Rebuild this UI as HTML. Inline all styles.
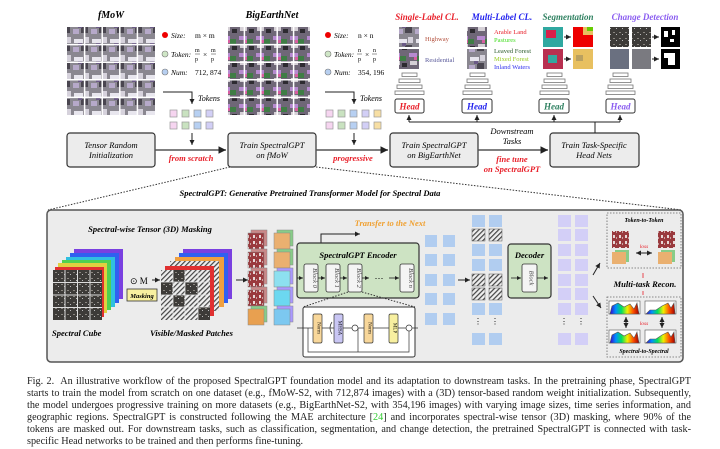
<!DOCTYPE html>
<html><head><meta charset="utf-8"><style>
body{margin:0;background:#fff;width:720px;height:446px;overflow:hidden;position:relative;font-family:"Liberation Serif",serif}
svg{position:absolute;left:0;top:0}
.cap{position:absolute;left:27px;top:376px;width:664px;font-size:10.2px;line-height:12.1px;text-align:justify;color:#222;font-family:"Liberation Serif",serif}
</style></head><body>
<svg width="720" height="446" viewBox="0 0 720 446" font-family="Liberation Serif, serif">
<defs>
<pattern id="fm" width="18" height="18" patternUnits="userSpaceOnUse">
<rect width="18" height="18" fill="#8a8790"/><rect x="2" y="3" width="9" height="4" fill="#e8e6ee"/><rect x="9" y="9" width="7" height="6" fill="#4a4650"/><rect x="1" y="11" width="6" height="5" fill="#b6a9c9"/><rect x="12" y="1" width="5" height="6" fill="#d6d2dc"/><rect x="6" y="7" width="4" height="3" fill="#6b5a86"/>
</pattern>
<pattern id="be" width="17" height="17" patternUnits="userSpaceOnUse">
<rect width="17" height="17" fill="#6f6777"/><rect x="1" y="2" width="8" height="4" fill="#b78ad0"/><rect x="9" y="5" width="6" height="5" fill="#3f7d45"/><rect x="2" y="10" width="7" height="4" fill="#d5d0d6"/><rect x="11" y="12" width="5" height="4" fill="#2d2a30"/><rect x="6" y="6" width="3" height="3" fill="#d85ea0"/>
</pattern>
<pattern id="hat" width="3.5" height="3.5" patternUnits="userSpaceOnUse" patternTransform="rotate(45)">
<rect width="3.5" height="3.5" fill="#eee"/><rect width="1.2" height="3.5" fill="#444"/>
</pattern>
<pattern id="red" width="6" height="6" patternUnits="userSpaceOnUse">
<rect width="6" height="6" fill="#9a3a3e"/><rect x="1" y="1" width="2" height="3" fill="#e8d8d8"/><rect x="4" y="3" width="1" height="2" fill="#c9a0a0"/>
</pattern>
<pattern id="dark" width="6" height="6" patternUnits="userSpaceOnUse">
<rect width="6" height="6" fill="#3d3b38"/><rect x="1" y="2" width="2" height="1" fill="#8a8680"/><rect x="4" y="4" width="1" height="1" fill="#bbb"/>
</pattern>
<linearGradient id="rb" x1="0" x2="1"><stop offset="0" stop-color="#3b00c8"/><stop offset=".2" stop-color="#0090ff"/><stop offset=".4" stop-color="#00e060"/><stop offset=".6" stop-color="#f0f000"/><stop offset=".8" stop-color="#ff5000"/><stop offset="1" stop-color="#a00000"/></linearGradient>
<marker id="ar" markerWidth="6" markerHeight="6" refX="5" refY="3" orient="auto"><path d="M0,0.5 L5,3 L0,5.5 z" fill="#222"/></marker>
</defs>

<text x="111" y="18" font-size="10" font-style="italic" font-weight="bold" text-anchor="middle">fMoW</text>
<rect x="67" y="27" width="88" height="88" fill="url(#fm)"/>
<g stroke="#fff" stroke-width="1.5"><line x1="84.6" y1="27" x2="84.6" y2="115"/><line x1="102.2" y1="27" x2="102.2" y2="115"/><line x1="119.8" y1="27" x2="119.8" y2="115"/><line x1="137.4" y1="27" x2="137.4" y2="115"/><line x1="67" y1="44.6" x2="155" y2="44.6"/><line x1="67" y1="62.2" x2="155" y2="62.2"/><line x1="67" y1="79.8" x2="155" y2="79.8"/><line x1="67" y1="97.4" x2="155" y2="97.4"/></g>
<g font-size="7.5" font-style="italic">
<circle cx="165" cy="35" r="3" fill="#e00"/><text x="171" y="38">Size:</text><text x="195" y="38" font-style="normal">m × m</text>
<circle cx="165" cy="54" r="3" fill="#cfe6c6" stroke="#777" stroke-width=".6"/><text x="171" y="57">Token:</text><text x="195" y="52" font-style="normal" font-size="6">m</text><line x1="195" y1="54" x2="200" y2="54" stroke="#333" stroke-width=".5"/><text x="195" y="61" font-style="normal" font-size="6">p</text><text x="203" y="57" font-style="normal">×</text><text x="211" y="52" font-style="normal" font-size="6">m</text><line x1="211" y1="54" x2="216" y2="54" stroke="#333" stroke-width=".5"/><text x="211" y="61" font-style="normal" font-size="6">p</text>
<circle cx="165" cy="72" r="3" fill="#b7cff0" stroke="#777" stroke-width=".6"/><text x="171" y="75">Num:</text><text x="195" y="75" font-style="normal">712, 874</text>
</g>
<polyline points="163,92 192,92 192,104" fill="none" stroke="#222" stroke-width="1" marker-end="url(#ar)"/>
<text x="198" y="101" font-size="8" font-style="italic">Tokens</text>
<g stroke="#999" stroke-width=".7">
<rect x="170" y="110" width="7" height="7" fill="#f6d5f0"/><rect x="182" y="110" width="7" height="7" fill="#c9e2c0"/><rect x="194" y="110" width="7" height="7" fill="#b7d0f2"/><rect x="206" y="110" width="7" height="7" fill="#d2cff6"/>
<rect x="170" y="122" width="7" height="7" fill="#f6d5f0"/><rect x="182" y="122" width="7" height="7" fill="#c9e2c0"/><rect x="194" y="122" width="7" height="7" fill="#b7d0f2"/><rect x="206" y="122" width="7" height="7" fill="#d2cff6"/>
</g>
<line x1="192" y1="133" x2="192" y2="145" stroke="#222" marker-end="url(#ar)"/>

<text x="272" y="18" font-size="10" font-style="italic" font-weight="bold" text-anchor="middle">BigEarthNet</text>
<rect x="228" y="27" width="82" height="88" fill="url(#be)"/>
<g stroke="#fff" stroke-width="1.5"><line x1="244.4" y1="27" x2="244.4" y2="115"/><line x1="260.8" y1="27" x2="260.8" y2="115"/><line x1="277.2" y1="27" x2="277.2" y2="115"/><line x1="293.6" y1="27" x2="293.6" y2="115"/><line x1="228" y1="44.6" x2="310" y2="44.6"/><line x1="228" y1="62.2" x2="310" y2="62.2"/><line x1="228" y1="79.8" x2="310" y2="79.8"/><line x1="228" y1="97.4" x2="310" y2="97.4"/></g>
<g font-size="7.5" font-style="italic">
<circle cx="328" cy="35" r="3" fill="#e00"/><text x="334" y="38">Size:</text><text x="358" y="38" font-style="normal">n × n</text>
<circle cx="328" cy="54" r="3" fill="#cfe6c6" stroke="#777" stroke-width=".6"/><text x="334" y="57">Token:</text><text x="358" y="52" font-style="normal" font-size="6">n</text><line x1="357" y1="54" x2="362" y2="54" stroke="#333" stroke-width=".5"/><text x="358" y="61" font-style="normal" font-size="6">p</text><text x="365" y="57" font-style="normal">×</text><text x="373" y="52" font-style="normal" font-size="6">n</text><line x1="372" y1="54" x2="377" y2="54" stroke="#333" stroke-width=".5"/><text x="373" y="61" font-style="normal" font-size="6">p</text>
<circle cx="328" cy="72" r="3" fill="#b7cff0" stroke="#777" stroke-width=".6"/><text x="334" y="75">Num:</text><text x="358" y="75" font-style="normal">354, 196</text>
</g>
<polyline points="325,92 354,92 354,104" fill="none" stroke="#222" stroke-width="1" marker-end="url(#ar)"/>
<text x="360" y="101" font-size="8" font-style="italic">Tokens</text>
<g stroke="#999" stroke-width=".7">
<rect x="326" y="110" width="7" height="7" fill="#f6d5f0"/><rect x="338" y="110" width="7" height="7" fill="#c9e2c0"/><rect x="350" y="110" width="7" height="7" fill="#b7d0f2"/><rect x="362" y="110" width="7" height="7" fill="#d2cff6"/><rect x="374" y="110" width="7" height="7" fill="#f7dfa4"/>
<rect x="326" y="122" width="7" height="7" fill="#f6d5f0"/><rect x="338" y="122" width="7" height="7" fill="#c9e2c0"/><rect x="350" y="122" width="7" height="7" fill="#b7d0f2"/><rect x="362" y="122" width="7" height="7" fill="#d2cff6"/><rect x="374" y="122" width="7" height="7" fill="#f7dfa4"/>
</g>
<line x1="354" y1="133" x2="354" y2="145" stroke="#222" marker-end="url(#ar)"/>

<g fill="#ececec" stroke="#333" stroke-width="1.2">
<rect x="67" y="133" width="88" height="34" rx="3"/><rect x="228" y="133" width="88" height="34" rx="3"/><rect x="390" y="133" width="88" height="34" rx="3"/><rect x="550" y="133" width="89" height="34" rx="3"/>
</g>
<g stroke="#555" stroke-width="1.5"><line x1="155" y1="150" x2="226" y2="150" marker-end="url(#ar)"/><line x1="316" y1="150" x2="388" y2="150" marker-end="url(#ar)"/><line x1="478" y1="150" x2="548" y2="150" marker-end="url(#ar)"/></g>
<g font-size="8.5" font-style="italic" text-anchor="middle">
<text x="111" y="148">Tensor Random</text><text x="111" y="158">Initialization</text>
<text x="272" y="148">Train SpectralGPT</text><text x="272" y="158">on fMoW</text>
<text x="434" y="148">Train SpectralGPT</text><text x="434" y="158">on BigEarthNet</text>
<text x="594" y="148">Train Task-Specific</text><text x="594" y="158">Head Nets</text>
<text x="512" y="134">Downstream</text><text x="512" y="144">Tasks</text>
<g fill="#e8202a" font-weight="bold"><text x="191" y="161">from scratch</text><text x="353" y="161">progressive</text><text x="512" y="162">fine tune</text><text x="512" y="172">on SpectralGPT</text></g>
</g>

<g stroke="#222" stroke-width="1"><polyline points="409,122 620,122" fill="none"/><line x1="595" y1="122" x2="595" y2="133"/>
<line x1="409" y1="122" x2="409" y2="115" marker-end="url(#ar)"/><line x1="477" y1="122" x2="477" y2="115" marker-end="url(#ar)"/><line x1="554" y1="122" x2="554" y2="115" marker-end="url(#ar)"/><line x1="620" y1="122" x2="620" y2="115" marker-end="url(#ar)"/></g>
<g fill="#fff" stroke="#333" stroke-width="1">
<rect x="395" y="99" width="29" height="14" rx="2"/><rect x="462" y="99" width="30" height="14" rx="2"/><rect x="539" y="99" width="30" height="14" rx="2"/><rect x="606" y="99" width="29" height="14" rx="2"/>
</g>
<g font-size="9" font-style="italic" font-weight="bold" text-anchor="middle">
<text x="409.5" y="109.5" fill="#e8202a">Head</text><text x="477" y="109.5" fill="#2222ee">Head</text><text x="554" y="109.5" fill="#2e8060">Head</text><text x="620.5" y="109.5" fill="#8a5cf0">Head</text>
</g>
<g fill="#fff" stroke="#777" stroke-width=".8">
<rect x="402" y="73" width="15" height="3.5"/><rect x="399" y="79" width="21" height="3.5"/><rect x="397" y="85" width="25" height="3.5"/><rect x="395" y="91" width="29" height="3.5"/>
<rect x="470" y="73" width="15" height="3.5"/><rect x="467" y="79" width="21" height="3.5"/><rect x="465" y="85" width="25" height="3.5"/><rect x="463" y="91" width="29" height="3.5"/>
<rect x="547" y="73" width="15" height="3.5"/><rect x="544" y="79" width="21" height="3.5"/><rect x="542" y="85" width="25" height="3.5"/><rect x="540" y="91" width="29" height="3.5"/>
<rect x="613" y="73" width="15" height="3.5"/><rect x="610" y="79" width="21" height="3.5"/><rect x="608" y="85" width="25" height="3.5"/><rect x="606" y="91" width="29" height="3.5"/>
</g>
<g font-size="9" font-style="italic" font-weight="bold" text-anchor="middle">
<text x="427" y="20" fill="#e8202a">Single-Label CL.</text><text x="502" y="20" fill="#2222ee">Multi-Label CL.</text><text x="568" y="20" fill="#2e8060">Segmentation</text><text x="645" y="20" fill="#8a5cf0">Change Detection</text>
</g>
<rect x="399" y="27" width="20" height="20" fill="url(#fm)"/><rect x="399" y="49" width="20" height="20" fill="url(#be)"/>
<rect x="467" y="27" width="20" height="20" fill="url(#be)"/><rect x="467" y="49" width="20" height="20" fill="url(#fm)"/>
<g font-size="6.5"><text x="425" y="41" fill="#b3503d">Highway</text><text x="425" y="62" fill="#5a5a9a">Residential</text>
<text x="494" y="34" fill="#e8202a">Arable Land</text><text x="494" y="42" fill="#44dd22">Pastures</text><text x="494" y="53" fill="#2a5a2a">Leaved Forest</text><text x="494" y="61" fill="#99cc22">Mixed Forest</text><text x="494" y="69" fill="#3333ee">Inland Waters</text></g>
<rect x="543" y="27" width="20" height="20" fill="#2fa8a0"/><rect x="546" y="30" width="10" height="8" fill="#d8204a"/><rect x="543" y="49" width="20" height="20" fill="#b83050"/><rect x="548" y="55" width="9" height="8" fill="#33a8a0"/>
<rect x="573" y="27" width="20" height="20" fill="#e00"/><rect x="583" y="27" width="10" height="8" fill="#e8c060"/><rect x="587" y="27" width="6" height="4" fill="#6c0"/>
<rect x="573" y="49" width="20" height="20" fill="#e8c060"/><rect x="576" y="55" width="7" height="6" fill="#b9a060"/>
<g stroke="#222"><line x1="564" y1="37" x2="571" y2="37" marker-end="url(#ar)"/><line x1="564" y1="59" x2="571" y2="59" marker-end="url(#ar)"/><line x1="652" y1="37" x2="659" y2="37" marker-end="url(#ar)"/><line x1="652" y1="59" x2="659" y2="59" marker-end="url(#ar)"/></g>
<rect x="610" y="27" width="19" height="20" fill="url(#dark)"/><rect x="632" y="27" width="19" height="20" fill="url(#dark)"/><rect x="610" y="49" width="19" height="20" fill="#6a7080"/><rect x="632" y="49" width="19" height="20" fill="#7a7a80"/>
<rect x="661" y="27" width="19" height="20" fill="#000"/><rect x="664" y="31" width="4" height="6" fill="#fff"/><rect x="672" y="30" width="3" height="5" fill="#fff"/><rect x="670" y="39" width="4" height="3" fill="#fff"/>
<rect x="661" y="49" width="19" height="20" fill="#000"/><rect x="664" y="53" width="11" height="5" fill="#fff"/><rect x="668" y="58" width="7" height="7" fill="#fff"/>

<g stroke="#333" stroke-width="1" stroke-dasharray="1.5,1.5"><line x1="230" y1="167" x2="48" y2="210"/><line x1="316" y1="167" x2="682" y2="210"/></g>
<text x="310" y="196" font-size="8.5" font-style="italic" font-weight="bold" text-anchor="middle">SpectralGPT: Generative Pretrained Transformer Model for Spectral Data</text>

<rect x="47" y="210" width="636" height="152" rx="4" fill="#ececec" stroke="#555" stroke-width="1.5"/>
<text x="150" y="232" font-size="8.5" font-style="italic" font-weight="bold" text-anchor="middle">Spectral-wise Tensor (3D) Masking</text>
<g>
<polygon points="74,249 123,249 123,299 74,299" fill="#7a40e0"/><polygon points="70,253 119,253 119,303 70,303" fill="#3060f0"/><polygon points="66,257 115,257 115,307 66,307" fill="#30c0e0"/><polygon points="62,260 111,260 111,310 62,310" fill="#50d050"/><polygon points="58,263 107,263 107,313 58,313" fill="#e0d040"/><polygon points="55,267 104,267 104,317 55,317" fill="#e03030"/>
<rect x="53" y="270" width="49" height="50" fill="url(#dark)"/>
<g stroke="#ddd" stroke-width="1"><line x1="65" y1="270" x2="65" y2="320"/><line x1="77.5" y1="270" x2="77.5" y2="320"/><line x1="90" y1="270" x2="90" y2="320"/><line x1="53" y1="282.5" x2="102" y2="282.5"/><line x1="53" y1="295" x2="102" y2="295"/><line x1="53" y1="307.5" x2="102" y2="307.5"/></g>
</g>
<text x="130" y="284" font-size="9">⊙ M</text><line x1="152" y1="280" x2="160" y2="280" stroke="#222" marker-end="url(#ar)"/>
<rect x="127" y="289" width="30" height="12" fill="#f8f0a0" stroke="#333" stroke-width=".8"/><text x="142" y="298" font-size="6.5" font-style="italic" font-weight="bold" text-anchor="middle">Masking</text>
<g>
<polygon points="183,249 232,249 232,299 183,299" fill="#7a40e0"/><polygon points="179,253 228,253 228,303 179,303" fill="#3060f0"/><polygon points="175,257 224,257 224,307 175,307" fill="#f0a040"/><polygon points="170,261 219,261 219,311 170,311" fill="url(#hat)"/><polygon points="165,266 214,266 214,316 165,316" fill="#e03030"/>
<rect x="161" y="270" width="49" height="50" fill="url(#hat)"/>
<rect x="173" y="270" width="12" height="12" fill="url(#dark)"/><rect x="161" y="282" width="12" height="13" fill="url(#dark)"/><rect x="185" y="282" width="13" height="13" fill="url(#dark)"/><rect x="173" y="295" width="12" height="12" fill="url(#dark)"/><rect x="198" y="307" width="12" height="13" fill="url(#dark)"/>
<g stroke="#eee" stroke-width=".8"><line x1="173" y1="270" x2="173" y2="320"/><line x1="185" y1="270" x2="185" y2="320"/><line x1="198" y1="270" x2="198" y2="320"/><line x1="161" y1="282" x2="210" y2="282"/><line x1="161" y1="295" x2="210" y2="295"/><line x1="161" y1="307" x2="210" y2="307"/></g>
</g>
<g font-size="8.5" font-style="italic" font-weight="bold"><text x="52" y="336">Spectral Cube</text><text x="150" y="336">Visible/Masked Patches</text></g>
<line x1="236" y1="280" x2="248" y2="280" stroke="#222" marker-end="url(#ar)"/>
<g stroke="#888" stroke-width=".5">
<rect x="251" y="230" width="16" height="16" fill="#c88"/><rect x="248" y="233" width="16" height="16" fill="url(#red)"/>
<rect x="251" y="249" width="16" height="16" fill="#c88"/><rect x="248" y="252" width="16" height="16" fill="url(#red)"/>
<rect x="251" y="268" width="16" height="16" fill="#c88"/><rect x="248" y="271" width="16" height="16" fill="url(#red)"/>
<rect x="251" y="287" width="16" height="16" fill="#c88"/><rect x="248" y="290" width="16" height="16" fill="url(#red)"/>
<rect x="251" y="306" width="16" height="16" fill="#8c8"/><rect x="248" y="309" width="16" height="16" fill="#e8a050"/>
<rect x="277" y="230" width="16" height="16" fill="#8c8"/><rect x="274" y="233" width="16" height="16" fill="#eab070"/>
<rect x="277" y="249" width="16" height="16" fill="#8c8"/><rect x="274" y="252" width="16" height="16" fill="#eab070"/>
<rect x="277" y="268" width="16" height="16" fill="#a9f"/><rect x="274" y="271" width="16" height="16" fill="#8de0f0"/>
<rect x="277" y="287" width="16" height="16" fill="#a9f"/><rect x="274" y="290" width="16" height="16" fill="#6cd8f0"/>
<rect x="277" y="306" width="16" height="16" fill="#a9f"/><rect x="274" y="309" width="16" height="16" fill="#7cc8f0"/>
</g>
<polyline points="321,243 321,234 360,234" fill="none" stroke="#222" marker-end="url(#ar)"/>
<text x="390" y="226" font-size="8.5" font-style="italic" font-weight="bold" fill="#f0a030" text-anchor="middle">Transfer to the Next</text>
<rect x="297" y="243" width="122" height="55" rx="3" fill="#cde3c3" stroke="#333" stroke-width="1.2"/>
<text x="358" y="258" font-size="8.5" font-style="italic" font-weight="bold" text-anchor="middle">SpectralGPT Encoder</text>
<g fill="#f4f4f4" stroke="#333" stroke-width=".8"><rect x="304" y="264" width="14" height="28" rx="2"/><rect x="326" y="264" width="14" height="28" rx="2"/><rect x="348" y="264" width="14" height="28" rx="2"/><rect x="400" y="264" width="14" height="28" rx="2"/></g>
<g font-size="6.5" font-style="italic" fill="#444" text-anchor="middle">
<text transform="translate(313,278) rotate(90)">Block 0</text><text transform="translate(335,278) rotate(90)">Block 1</text><text transform="translate(357,278) rotate(90)">Block 2</text><text transform="translate(409,278) rotate(90)">Block n</text></g>
<g stroke="#222" stroke-width=".8"><line x1="297" y1="278" x2="303" y2="278" marker-end="url(#ar)"/><line x1="318" y1="278" x2="325" y2="278" marker-end="url(#ar)"/><line x1="340" y1="278" x2="347" y2="278" marker-end="url(#ar)"/><line x1="362" y1="278" x2="369" y2="278" marker-end="url(#ar)"/><line x1="389" y1="278" x2="399" y2="278" marker-end="url(#ar)"/></g>
<text x="379" y="281" font-size="9" text-anchor="middle">⋯</text>
<g stroke="#333" stroke-dasharray="1.5,1.5"><line x1="348" y1="292" x2="303" y2="307"/><line x1="362" y1="292" x2="415" y2="307"/></g>
<rect x="303" y="307" width="112" height="50" rx="2" fill="#fff" stroke="#333" stroke-width="1"/>
<g stroke="#333" stroke-width=".7" fill="none"><line x1="297" y1="328" x2="418" y2="328"/><polyline points="308,328 308,352 409,352 409,331"/><polyline points="358,328 358,352"/><path d="M332,322 Q328,328 332,334"/></g>
<rect x="313" y="314" width="9" height="29" rx="1.5" fill="#f8d79a" stroke="#333" stroke-width=".7"/><rect x="334" y="314" width="9" height="29" rx="1.5" fill="#c9c6f4" stroke="#333" stroke-width=".7"/><rect x="364" y="314" width="9" height="29" rx="1.5" fill="#f8d79a" stroke="#333" stroke-width=".7"/><rect x="389" y="314" width="9" height="29" rx="1.5" fill="#f8f0a0" stroke="#333" stroke-width=".7"/>
<circle cx="355" cy="328" r="3" fill="#fff" stroke="#333" stroke-width=".7"/><circle cx="409" cy="328" r="3" fill="#fff" stroke="#333" stroke-width=".7"/>
<g font-size="5" text-anchor="middle"><text transform="translate(317.5,328) rotate(90)">Norm</text><text transform="translate(338.5,328) rotate(90)">MHSA</text><text transform="translate(368.5,328) rotate(90)">Norm</text><text transform="translate(393.5,328) rotate(90)">MLP</text></g>
<g fill="#b1cdf0"><rect x="425" y="235" width="12" height="12"/><rect x="443" y="235" width="12" height="12"/><rect x="425" y="254" width="12" height="12"/><rect x="443" y="254" width="12" height="12"/><rect x="425" y="274" width="12" height="12"/><rect x="443" y="274" width="12" height="12"/><rect x="425" y="293" width="12" height="12"/><rect x="443" y="293" width="12" height="12"/><rect x="425" y="313" width="12" height="12"/><rect x="443" y="313" width="12" height="12"/></g>
<line x1="458" y1="280" x2="470" y2="280" stroke="#222" marker-end="url(#ar)"/>
<g fill="#b1cdf0"><rect x="472" y="215" width="13" height="12"/><rect x="489" y="215" width="13" height="12"/><rect x="472" y="244" width="13" height="12"/><rect x="489" y="244" width="13" height="12"/><rect x="472" y="259" width="13" height="12"/><rect x="489" y="259" width="13" height="12"/><rect x="472" y="303" width="13" height="12"/><rect x="489" y="303" width="13" height="12"/><rect x="472" y="333" width="13" height="12"/><rect x="489" y="333" width="13" height="12"/></g>
<g fill="url(#hat)" stroke="#555" stroke-width=".5"><rect x="472" y="229" width="13" height="12"/><rect x="489" y="229" width="13" height="12"/><rect x="472" y="274" width="13" height="12"/><rect x="489" y="274" width="13" height="12"/><rect x="472" y="288" width="13" height="12"/><rect x="489" y="288" width="13" height="12"/></g>
<g font-size="8" text-anchor="middle"><text x="478" y="324">⋮</text><text x="495" y="324">⋮</text><text x="564" y="324">⋮</text><text x="581" y="324">⋮</text></g>
<rect x="508" y="244" width="43" height="54" rx="3" fill="#cde3c3" stroke="#333" stroke-width="1.2"/>
<text x="529.5" y="258" font-size="8.5" font-style="italic" font-weight="bold" text-anchor="middle">Decoder</text>
<rect x="522" y="264" width="15" height="28" rx="2" fill="#f4f4f4" stroke="#333" stroke-width=".8"/>
<text transform="translate(529.5,278) rotate(90)" font-size="6.5" font-style="italic" fill="#444" text-anchor="middle">Block</text>
<g stroke="#222" stroke-width=".8"><line x1="511" y1="278" x2="521" y2="278" marker-end="url(#ar)"/><line x1="537" y1="278" x2="548" y2="278" marker-end="url(#ar)"/></g>
<g fill="#d3cff7">
<rect x="558" y="215" width="13" height="12"/><rect x="575" y="215" width="13" height="12"/><rect x="558" y="229" width="13" height="12"/><rect x="575" y="229" width="13" height="12"/><rect x="558" y="244" width="13" height="12"/><rect x="575" y="244" width="13" height="12"/><rect x="558" y="259" width="13" height="12"/><rect x="575" y="259" width="13" height="12"/><rect x="558" y="274" width="13" height="12"/><rect x="575" y="274" width="13" height="12"/><rect x="558" y="288" width="13" height="12"/><rect x="575" y="288" width="13" height="12"/><rect x="558" y="303" width="13" height="12"/><rect x="575" y="303" width="13" height="12"/><rect x="558" y="333" width="13" height="12"/><rect x="575" y="333" width="13" height="12"/></g>
<g stroke="#222" stroke-width="1"><line x1="593" y1="275" x2="600" y2="263" marker-end="url(#ar)"/><line x1="593" y1="296" x2="601" y2="308" marker-end="url(#ar)"/></g>
<g fill="none" stroke="#666" stroke-width=".8" stroke-dasharray="1.5,1.5"><rect x="607" y="213" width="74" height="55"/><rect x="607" y="297" width="74" height="60"/></g>
<text x="644" y="222" font-size="6" font-style="italic" font-weight="bold" text-anchor="middle">Token-to-Token</text>
<rect x="612" y="231" width="17" height="17" fill="url(#red)"/><rect x="658" y="231" width="17" height="17" fill="url(#red)"/>
<rect x="615" y="250" width="14" height="12" fill="#8c8"/><rect x="612" y="252" width="14" height="12" fill="#eab070"/><rect x="661" y="250" width="14" height="12" fill="#8c8"/><rect x="658" y="252" width="14" height="12" fill="#eab070"/>
<text x="644" y="248" font-size="5.5" fill="#e8202a" font-style="italic" text-anchor="middle">loss</text>
<line x1="636" y1="253" x2="652" y2="253" stroke="#222" marker-end="url(#ar)"/><line x1="652" y1="253" x2="636" y2="253" stroke="#222" marker-end="url(#ar)"/>
<text x="645" y="287" font-size="8.5" font-style="italic" font-weight="bold" text-anchor="middle">Multi-task Recon.</text>
<g stroke="#e8202a" stroke-width=".8"><line x1="643" y1="278" x2="643" y2="273"/><line x1="643" y1="291" x2="643" y2="295"/></g>
<g stroke="#555" stroke-width=".6">
<rect x="609" y="301" width="31" height="13" fill="#fff"/><path d="M610,314 L612,306 L618,303 L624,307 L630,304 L634,309 L637,303 L639,314z" fill="url(#rb)"/>
<rect x="645" y="301" width="31" height="13" fill="#fff"/><path d="M646,314 L650,310 L656,310 L662,306 L668,303 L671,308 L674,303 L675,314z" fill="url(#rb)"/>
<rect x="609" y="330" width="31" height="13" fill="#fff"/><path d="M610,343 L612,335 L618,332 L624,336 L630,333 L634,338 L637,332 L639,343z" fill="url(#rb)"/>
<rect x="645" y="330" width="31" height="13" fill="#fff"/><path d="M646,343 L650,339 L656,339 L662,335 L668,332 L671,337 L674,332 L675,343z" fill="url(#rb)"/>
</g>
<text x="644" y="325" font-size="5.5" fill="#e8202a" font-style="italic" text-anchor="middle">loss</text>
<g stroke="#222"><line x1="626" y1="322" x2="626" y2="317" marker-end="url(#ar)"/><line x1="626" y1="322" x2="626" y2="328" marker-end="url(#ar)"/><line x1="662" y1="322" x2="662" y2="317" marker-end="url(#ar)"/><line x1="662" y1="322" x2="662" y2="328" marker-end="url(#ar)"/></g>
<text x="644" y="353" font-size="6" font-style="italic" font-weight="bold" text-anchor="middle">Spectral-to-Spectral</text>
</svg>
<div class="cap">Fig. 2.&nbsp; An illustrative workflow of the proposed SpectralGPT foundation model and its adaptation to downstream tasks. In the pretraining phase, SpectralGPT starts to train the model from scratch on one dataset (e.g., fMoW-S2, with 712,874 images) with a (3D) tensor-based random weight initialization. Subsequently, the model undergoes progressive training on more datasets (e.g., BigEarthNet-S2, with 354,196 images) with varying image sizes, time series information, and geographic regions. SpectralGPT is constructed following the MAE architecture [<span style="color:#3c3">24</span>] and incorporates spectral-wise tensor (3D) masking, where 90% of the tokens are masked out. For downstream tasks, such as classification, segmentation, and change detection, the pretrained SpectralGPT is connected with task-specific Head networks to be trained and then performs fine-tuning.</div>
</body></html>
